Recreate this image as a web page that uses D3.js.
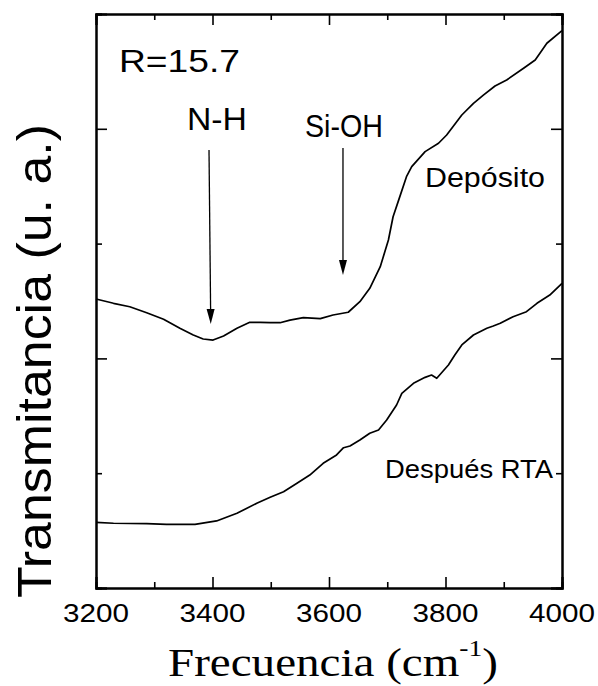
<!DOCTYPE html>
<html>
<head>
<meta charset="utf-8">
<script src="https://cdn.jsdelivr.net/npm/d3@7"></script>
<style>
  html, body { margin: 0; padding: 0; background: #fff; }
  svg { display: block; }
</style>
</head>
<body>
<svg id="chart" width="598" height="686"></svg>
<script>
// IR transmittance spectra, as deposited and after RTA (arbitrary units, offset)
const depositoFreq = [3200, 3230, 3258, 3287, 3316, 3344, 3367, 3384, 3401, 3419, 3442, 3464, 3482, 3499, 3516, 3533, 3556, 3585, 3607, 3633, 3653, 3670, 3688, 3702, 3710, 3719, 3733, 3742, 3765, 3788, 3802, 3828, 3848, 3865, 3885, 3905, 3934, 3954, 3974, 4000];
const depositoT    = [2.517, 2.480, 2.450, 2.398, 2.341, 2.262, 2.204, 2.169, 2.160, 2.195, 2.262, 2.314, 2.314, 2.311, 2.311, 2.334, 2.355, 2.346, 2.378, 2.402, 2.494, 2.611, 2.799, 3.031, 3.234, 3.370, 3.583, 3.670, 3.801, 3.874, 3.946, 4.120, 4.222, 4.294, 4.373, 4.425, 4.527, 4.599, 4.745, 4.855];

const rtaFreq = [3200, 3230, 3287, 3321, 3370, 3407, 3442, 3476, 3499, 3522, 3545, 3567, 3590, 3613, 3625, 3636, 3653, 3670, 3685, 3699, 3716, 3725, 3745, 3765, 3776, 3785, 3805, 3816, 3828, 3848, 3871, 3882, 3894, 3916, 3939, 3957, 3979, 4000];
const rtaT    = [0.572, 0.564, 0.560, 0.555, 0.555, 0.584, 0.651, 0.738, 0.790, 0.839, 0.912, 0.984, 1.086, 1.159, 1.222, 1.237, 1.289, 1.348, 1.376, 1.463, 1.594, 1.696, 1.783, 1.835, 1.855, 1.827, 1.943, 2.030, 2.117, 2.204, 2.262, 2.282, 2.306, 2.363, 2.407, 2.480, 2.552, 2.654];

// Band markers: label, frequency, arrow top and tip (transmittance units)
const bandNames = ["N-H", "Si-OH"];
const bandFreqTop = [3394, 3624];
const bandFreqTip = [3397, 3624];
const bandTop = [3.815, 3.833];
const bandTip = [2.300, 2.727];

const xTicksMajor = [3200, 3400, 3600, 3800, 4000];
const xTicksMinor = [3300, 3500, 3700, 3900];
const yTicksMajor = [0, 2, 4];
const yTicksMinor = [1, 3, 5];

const sans = "'Liberation Sans', Arial, sans-serif";
const serif = "'Liberation Serif', 'Times New Roman', serif";

const svg = d3.select("#chart");
const plot = { left: 96, right: 562, top: 14, bottom: 588 };

const x = d3.scaleLinear().domain([3200, 4000]).range([plot.left, plot.right]);
const y = d3.scaleLinear().domain([0, 5]).range([plot.bottom, plot.top]);

// Frame with inward ticks on all four sides
function tickAxis(axisFn, scale, major, minor, transform) {
  const g1 = svg.append("g").attr("transform", transform)
    .call(axisFn(scale).tickValues(major).tickSize(-11).tickFormat(""));
  const g2 = svg.append("g").attr("transform", transform)
    .call(axisFn(scale).tickValues(minor).tickSize(-6).tickFormat(""));
  [g1, g2].forEach(g => {
    g.select(".domain").attr("stroke", "#000").attr("stroke-width", 2);
    g.selectAll(".tick line").attr("stroke", "#000").attr("stroke-width", 1.6);
  });
  return g1;
}
tickAxis(d3.axisBottom, x, xTicksMajor, xTicksMinor, `translate(0,${plot.bottom})`);
tickAxis(d3.axisTop, x, xTicksMajor, xTicksMinor, `translate(0,${plot.top})`);
tickAxis(d3.axisLeft, y, yTicksMajor, yTicksMinor, `translate(${plot.left},0)`);
tickAxis(d3.axisRight, y, yTicksMajor, yTicksMinor, `translate(${plot.right},0)`);

// Horizontally fitted text: places text so it spans [x0, x1] at a given baseline
function fitText(x0, x1, baseline, size, family, build) {
  const g = svg.append("g");
  const t = g.append("text").attr("font-family", family).attr("font-size", size).attr("fill", "#000");
  build(t);
  const bb = t.node().getBBox();
  const s = (x1 - x0) / bb.width;
  g.attr("transform", `translate(${x0},${baseline}) scale(${s},1) translate(${-bb.x},0)`);
  return g;
}

// Tick labels
xTicksMajor.forEach(v => {
  const cx = x(v);
  fitText(cx - 33, cx + 33, 622, 25, sans, t => t.text(String(v)));
});

// Curves
const line = d3.line().x(d => x(d[0])).y(d => y(d[1]));
const curves = [d3.zip(depositoFreq, depositoT), d3.zip(rtaFreq, rtaT)];
svg.append("g").selectAll("path").data(curves).join("path")
  .attr("d", line)
  .attr("fill", "none")
  .attr("stroke", "#000")
  .attr("stroke-width", 1.7)
  .attr("stroke-linejoin", "round");

// Band arrows
bandNames.forEach((name, i) => {
  const x1 = x(bandFreqTop[i]), y1 = y(bandTop[i]);
  const x2 = x(bandFreqTip[i]), y2 = y(bandTip[i]);
  const ang = Math.atan2(y2 - y1, x2 - x1);
  const headLen = 15, headHalf = 4;
  const bx = x2 - headLen * Math.cos(ang), by = y2 - headLen * Math.sin(ang);
  svg.append("line")
    .attr("x1", x1).attr("y1", y1).attr("x2", bx).attr("y2", by)
    .attr("stroke", "#000").attr("stroke-width", 1.3);
  const px = -Math.sin(ang) * headHalf, py = Math.cos(ang) * headHalf;
  svg.append("path")
    .attr("d", `M${x2},${y2}L${bx + px},${by + py}L${bx - px},${by - py}Z`)
    .attr("fill", "#000");
});

// Annotations
fitText(119, 240, 72, 32, sans, t => t.text("R=15.7"));
fitText(187, 247, 130, 32, sans, t => t.text(bandNames[0]));
fitText(305, 383, 137, 31, sans, t => t.text(bandNames[1]));
fitText(425, 545, 187, 27, sans, t => t.text("Depósito"));
fitText(385, 553, 478, 25.5, sans, t => t.text("Después RTA"));

// Axis titles
fitText(168, 498, 676, 41, serif, t => {
  t.append("tspan").text("Frecuencia (cm");
  t.append("tspan").attr("font-size", 24).attr("dy", -20).text("-1");
  t.append("tspan").attr("dy", 20).text(")");
});

svg.append("text")
  .attr("transform", "translate(51,361) rotate(-90)")
  .attr("text-anchor", "middle")
  .attr("font-family", sans)
  .attr("font-size", 48)
  .attr("textLength", 474)
  .attr("lengthAdjust", "spacingAndGlyphs")
  .attr("fill", "#000")
  .text("Transmitancia (u. a.)");
</script>
</body>
</html>
